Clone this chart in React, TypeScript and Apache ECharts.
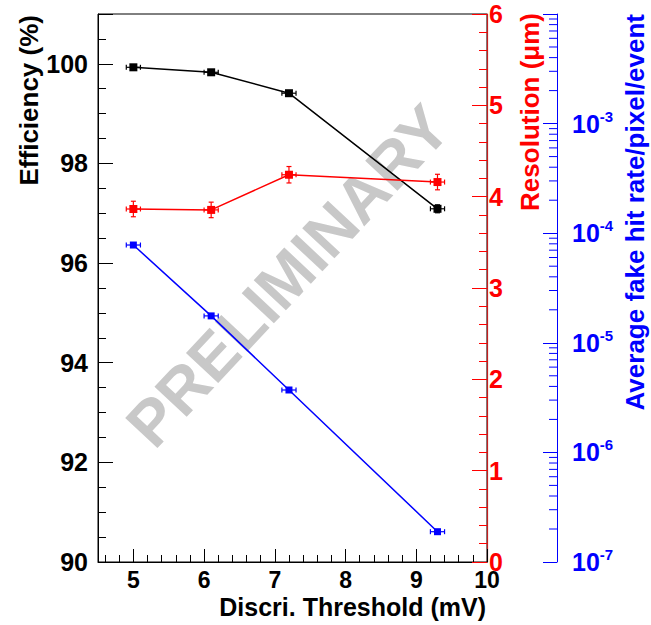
import React, { useEffect, useRef } from "react";
import * as echarts from "echarts";

const thresholds = [5.0, 6.1, 7.2, 9.3];
const thresholdErr = [0.1, 0.1, 0.1, 0.1];
const efficiency = [99.93, 99.83, 99.41, 97.09];
const efficiencyErr = [0.02, 0.03, 0.04, 0.08];
const resolution = [3.865, 3.855, 4.24, 4.16];
const resolutionErr = [0.085, 0.085, 0.09, 0.085];
const fakeRate = [7.8e-5, 1.76e-5, 3.71e-6, 1.89e-7];
const fakeRateErr = [0, 0, 0, 0];
const blueMinorTicks = [
  2e-7, 3e-7, 4e-7, 5e-7, 6e-7, 7e-7, 8e-7, 9e-7,
  2e-6, 3e-6, 4e-6, 5e-6, 6e-6, 7e-6, 8e-6, 9e-6,
  2e-5, 3e-5, 4e-5, 5e-5, 6e-5, 7e-5, 8e-5, 9e-5,
  2e-4, 3e-4, 4e-4, 5e-4, 6e-4, 7e-4, 8e-4, 9e-4,
  2e-3, 3e-3, 4e-3, 5e-3, 6e-3, 7e-3, 8e-3, 9e-3,
];

const FONT = "'Liberation Sans', Arial, Helvetica, sans-serif";
const BLACK = "#000000";
const RED = "#ff0000";
const BLUE = "#0000ff";
const BLUE_OFFSET = 70;

function errorBarSeries(name: string, yAxisIndex: number, color: string, ys: number[], yErr: number[]) {
  const data = thresholds.map((x, i) => [x, ys[i], thresholdErr[i], yErr[i]]);
  return {
    name,
    type: "custom",
    xAxisIndex: 0,
    yAxisIndex,
    z: 3,
    clip: false,
    encode: { x: 0, y: 1 },
    data,
    renderItem: (_params: any, api: any) => {
      const x = api.value(0);
      const y = api.value(1);
      const xe = api.value(2);
      const ye = api.value(3);
      const l = api.coord([x - xe, y]);
      const r = api.coord([x + xe, y]);
      const style = { stroke: color, lineWidth: 1.2 };
      const cap = 2.5;
      const children: any[] = [
        { type: "line", shape: { x1: l[0], y1: l[1], x2: r[0], y2: r[1] }, style },
        { type: "line", shape: { x1: l[0], y1: l[1] - cap, x2: l[0], y2: l[1] + cap }, style },
        { type: "line", shape: { x1: r[0], y1: r[1] - cap, x2: r[0], y2: r[1] + cap }, style },
      ];
      if (ye > 0) {
        const t = api.coord([x, y + ye]);
        const b = api.coord([x, y - ye]);
        children.push(
          { type: "line", shape: { x1: t[0], y1: t[1], x2: b[0], y2: b[1] }, style },
          { type: "line", shape: { x1: t[0] - cap, y1: t[1], x2: t[0] + cap, y2: t[1] }, style },
          { type: "line", shape: { x1: b[0] - cap, y1: b[1], x2: b[0] + cap, y2: b[1] }, style }
        );
      }
      return { type: "group", children };
    },
  };
}

export default function App() {
  const ref = useRef<HTMLDivElement>(null);
  useEffect(() => {
    if (!ref.current) return;
    const chart = echarts.init(ref.current, null, { renderer: "svg" });
    const labelBase = { fontFamily: FONT, fontWeight: "bold" as const, fontSize: 25 };
    const option: any = {
      animation: false,
      backgroundColor: "#ffffff",
      grid: {
        left: 98,
        right: 164,
        top: 14,
        bottom: 63,
        show: true,
        borderColor: BLACK,
        borderWidth: 1,
        backgroundColor: "transparent",
      },
      xAxis: {
        type: "value",
        min: 4.5,
        max: 10,
        splitNumber: 5,
        axisLine: { show: true, lineStyle: { color: BLACK, width: 1 } },
        axisTick: { show: true, inside: true, length: 13, lineStyle: { color: BLACK } },
        minorTick: { show: true, splitNumber: 5, length: 7, lineStyle: { color: BLACK } },
        splitLine: { show: false },
        axisLabel: { ...labelBase, fontSize: 23, lineHeight: 16, color: BLACK, margin: 10, showMinLabel: false },
      },
      yAxis: [
        {
          type: "value",
          min: 90,
          max: 101,
          interval: 2,
          position: "left",
          axisLine: { show: true, lineStyle: { color: BLACK, width: 1 } },
          axisTick: { show: true, inside: true, length: 15, lineStyle: { color: BLACK } },
          minorTick: { show: true, splitNumber: 4, length: 8, lineStyle: { color: BLACK } },
          splitLine: { show: false },
          axisLabel: { ...labelBase, color: BLACK, margin: 10, showMaxLabel: false },
        },
        {
          type: "value",
          min: 0,
          max: 6,
          interval: 1,
          position: "right",
          axisLine: { show: true, lineStyle: { color: "#c41e1e", width: 1.2 } },
          axisTick: { show: true, inside: true, length: 15, lineStyle: { color: RED } },
          minorTick: { show: true, splitNumber: 5, length: 8, lineStyle: { color: RED } },
          splitLine: { show: false },
          axisLabel: { ...labelBase, lineHeight: 18, color: RED, margin: 2 },
        },
        {
          type: "log",
          logBase: 10,
          min: 1e-7,
          max: 1e-2,
          position: "right",
          offset: BLUE_OFFSET,
          axisLine: { show: true, lineStyle: { color: BLUE, width: 1 } },
          axisTick: { show: true, inside: true, length: 14, lineStyle: { color: BLUE } },
          minorTick: { show: false },
          splitLine: { show: false },
          axisLabel: {
            margin: 15,
            showMaxLabel: false,
            formatter: (v: number) => {
              const e = Math.round(Math.log10(v));
              if (e >= -2) return "";
              return `{b|10}{s|${e}}`;
            },
            rich: {
              b: { ...labelBase, color: BLUE, lineHeight: 30 },
              s: { fontFamily: FONT, fontWeight: "bold", fontSize: 15, color: BLUE, lineHeight: 14, verticalAlign: "top" },
            },
          },
        },
      ],
      graphic: [
        {
          type: "text",
          z: -10,
          x: 288,
          y: 276,
          rotation: (47 * Math.PI) / 180,
          style: {
            text: "PRELIMINARY",
            font: `bold 64px ${FONT}`,
            fill: "#c8c8c8",
            align: "center",
            verticalAlign: "middle",
          },
        },
        {
          type: "text",
          x: 29,
          y: 15,
          rotation: Math.PI / 2,
          style: {
            text: "Efficiency (%)",
            font: `bold 26px ${FONT}`,
            fill: BLACK,
            align: "right",
            verticalAlign: "middle",
          },
        },
        {
          type: "text",
          x: 530,
          y: 13,
          rotation: Math.PI / 2,
          style: {
            text: "Resolution (μm)",
            font: `bold 26px ${FONT}`,
            fill: RED,
            align: "right",
            verticalAlign: "middle",
          },
        },
        {
          type: "text",
          x: 635,
          y: 14,
          rotation: Math.PI / 2,
          style: {
            text: "Average fake hit rate/pixel/event",
            font: `bold 26px ${FONT}`,
            fill: BLUE,
            align: "right",
            verticalAlign: "middle",
          },
        },
        {
          type: "text",
          x: 486,
          y: 607,
          style: {
            text: "Discri. Threshold (mV)",
            font: `bold 25px ${FONT}`,
            fill: BLACK,
            align: "right",
            verticalAlign: "middle",
          },
        },
      ],
      series: [
        {
          name: "Efficiency",
          type: "line",
          yAxisIndex: 0,
          z: 4,
          data: thresholds.map((x, i) => [x, efficiency[i]]),
          symbol: "rect",
          symbolSize: 8,
          itemStyle: { color: BLACK },
          lineStyle: { color: BLACK, width: 1.5 },
        },
        {
          name: "Resolution",
          type: "line",
          yAxisIndex: 1,
          z: 4,
          data: thresholds.map((x, i) => [x, resolution[i]]),
          symbol: "rect",
          symbolSize: 8,
          itemStyle: { color: RED },
          lineStyle: { color: RED, width: 1.5 },
        },
        {
          name: "Fake hit rate",
          type: "line",
          yAxisIndex: 2,
          z: 4,
          data: thresholds.map((x, i) => [x, fakeRate[i]]),
          symbol: "rect",
          symbolSize: 7,
          itemStyle: { color: BLUE },
          lineStyle: { color: BLUE, width: 1.5 },
        },
        errorBarSeries("Efficiency err", 0, BLACK, efficiency, efficiencyErr),
        errorBarSeries("Resolution err", 1, RED, resolution, resolutionErr),
        errorBarSeries("Fake rate err", 2, BLUE, fakeRate, fakeRateErr),
        {
          name: "Blue minor ticks",
          type: "custom",
          xAxisIndex: 0,
          yAxisIndex: 2,
          clip: false,
          silent: true,
          encode: { x: 0, y: 1 },
          data: blueMinorTicks.map((v) => [10, v]),
          renderItem: (_params: any, api: any) => {
            const p = api.coord([api.value(0), api.value(1)]);
            const xa = p[0] + BLUE_OFFSET;
            return {
              type: "line",
              shape: { x1: xa - 8, y1: p[1], x2: xa, y2: p[1] },
              style: { stroke: BLUE, lineWidth: 1 },
            };
          },
        },
      ],
    };
    chart.setOption(option);
    return () => chart.dispose();
  }, []);
  return (
    <div
      ref={ref}
      style={{ position: "fixed", left: 0, top: 0, width: 651, height: 625 }}
    />
  );
}
